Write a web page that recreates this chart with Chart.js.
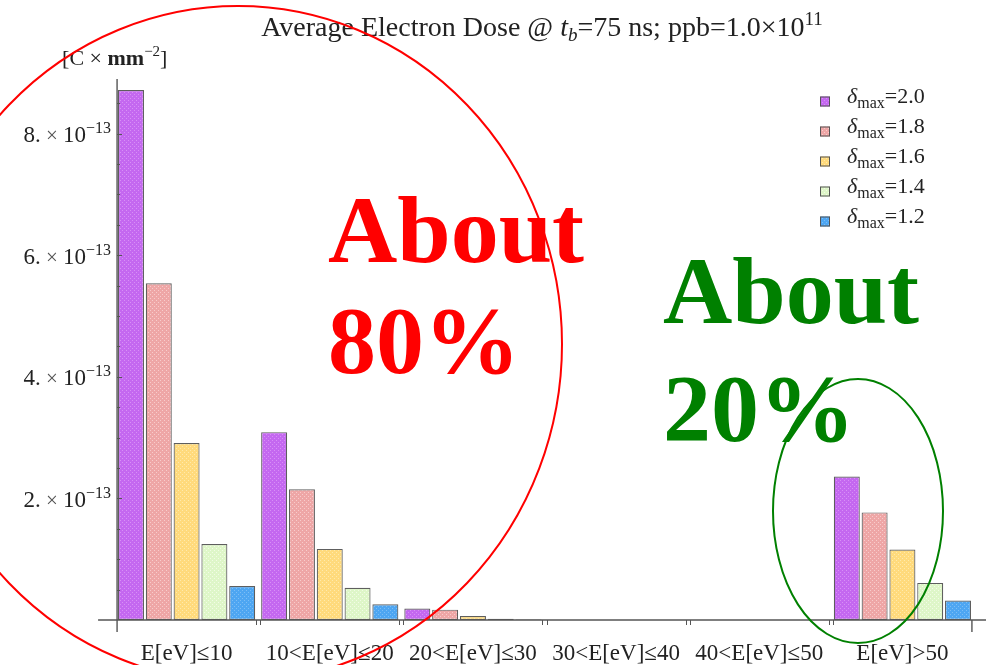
<!DOCTYPE html>
<html>
<head>
<meta charset="utf-8">
<title>Average Electron Dose</title>
<script src="https://cdn.jsdelivr.net/npm/chart.js@4/dist/chart.umd.min.js"></script>
<style>
  html, body { margin: 0; padding: 0; background: #ffffff; }
  #wrap { width: 986px; height: 665px; position: relative; }
</style>
</head>
<body>
<div id="wrap"><canvas id="dose" width="986" height="665"></canvas></div>
<script>
// Energy bins of the secondary electrons
const categories = ['E[eV]\u226410', '10<E[eV]\u226420', '20<E[eV]\u226430', '30<E[eV]\u226440', '40<E[eV]\u226450', 'E[eV]>50'];

// Average dose per bin [C x mm^-2] for each peak secondary emission yield
const deltaMax = ['2.0', '1.8', '1.6', '1.4', '1.2'];
const dose_d20 = [8.72e-13, 3.09e-13, 0.19e-13, 0, 0, 2.36e-13];
const dose_d18 = [5.54e-13, 2.15e-13, 0.17e-13, 0, 0, 1.77e-13];
const dose_d16 = [2.91e-13, 1.17e-13, 0.066e-13, 0, 0, 1.16e-13];
const dose_d14 = [1.25e-13, 0.53e-13, 0.02e-13, 0, 0, 0.61e-13];
const dose_d12 = [0.56e-13, 0.26e-13, 0.01e-13, 0, 0, 0.32e-13];

// Labelled y ticks (mantissa x 10^-13) and the axis range
const yTickValues = [2e-13, 4e-13, 6e-13, 8e-13];
const yTickMantissa = ['2.', '4.', '6.', '8.'];
const yMinorStep = 0.5e-13;
const yMax = 8.9e-13;

const serif = '"Liberation Serif", "Times New Roman", "DejaVu Serif", serif';
const ink = '#222222';
const CAT_PCT = 0.971;

// Hatched fills: base colour with a lighter dot lattice
function makePattern(base, dot) {
  const c = document.createElement('canvas');
  c.width = 4; c.height = 4;
  const g = c.getContext('2d');
  g.fillStyle = base; g.fillRect(0, 0, 4, 4);
  g.fillStyle = dot;
  g.fillRect(0, 0, 1, 1); g.fillRect(2, 2, 1, 1);
  return g.createPattern(c, 'repeat');
}
const fills = [
  makePattern('#c468f0', '#d890f6'),
  makePattern('#eea6a6', '#f8cccc'),
  makePattern('#ffda7c', '#ffeaac'),
  makePattern('#def6c8', '#f2fce6'),
  makePattern('#4ea6f2', '#7cbef6')
];
const seriesValues = [dose_d20, dose_d18, dose_d16, dose_d14, dose_d12];

// Draws a run of text pieces with individual fonts and baseline shifts
function drawRich(ctx, parts, x, y, align) {
  let total = 0;
  parts.forEach(p => { ctx.font = p.f; p.w = ctx.measureText(p.t).width; total += p.w; });
  let cx = align === 'center' ? x - total / 2 : align === 'right' ? x - total : x;
  ctx.textAlign = 'left';
  ctx.textBaseline = 'alphabetic';
  parts.forEach(p => {
    ctx.font = p.f;
    ctx.fillStyle = p.c || ink;
    ctx.fillText(p.t, cx, y + (p.dy || 0));
    cx += p.w;
  });
}

const decorations = {
  id: 'decorations',
  afterDatasetsDraw(chart) {
    const ctx = chart.ctx;
    const xs = chart.scales.x, ys = chart.scales.y;
    const area = chart.chartArea;
    const y0 = ys.getPixelForValue(0);
    const pitch = xs.getPixelForValue(1) - xs.getPixelForValue(0);
    const groupHalf = pitch * CAT_PCT / 2;
    const axisX = xs.getPixelForValue(0) - groupHalf;
    const axisEnd = xs.getPixelForValue(categories.length - 1) + groupHalf;
    ctx.save();

    // axes
    ctx.strokeStyle = '#555555';
    ctx.lineWidth = 1.4;
    ctx.beginPath();
    ctx.moveTo(axisX - 19, y0); ctx.lineTo(chart.width, y0);
    ctx.moveTo(axisX, area.top); ctx.lineTo(axisX, y0 + 12);
    ctx.moveTo(axisEnd, y0); ctx.lineTo(axisEnd, y0 + 12);
    ctx.stroke();

    // y ticks pointing inward
    ctx.lineWidth = 1;
    ctx.beginPath();
    for (let v = yMinorStep; v <= yMax; v += yMinorStep) {
      const py = Math.round(ys.getPixelForValue(v)) + 0.5;
      const major = yTickValues.some(t => Math.abs(t - v) < 1e-16);
      ctx.moveTo(axisX, py); ctx.lineTo(axisX + (major ? 5 : 3), py);
    }
    // x ticks at the ends of neighbouring groups
    for (let i = 1; i < categories.length; i++) {
      const endPrev = xs.getPixelForValue(i - 1) + groupHalf;
      const startNext = xs.getPixelForValue(i) - groupHalf;
      [endPrev, startNext].forEach(bx => { ctx.moveTo(Math.round(bx) + 0.5, y0); ctx.lineTo(Math.round(bx) + 0.5, y0 + 5); });
    }
    ctx.stroke();

    // y tick labels
    yTickValues.forEach((v, i) => {
      const py = ys.getPixelForValue(v);
      drawRich(ctx, [
        { t: yTickMantissa[i], f: `23px ${serif}` },
        { t: ' \u00d7 ', f: `21px ${serif}`, c: '#555' },
        { t: '10', f: `23px ${serif}` },
        { t: '\u221213', f: `16px ${serif}`, dy: -9 }
      ], axisX - 6, py + 8.5, 'right');
    });

    // x category labels
    categories.forEach((c, i) => {
      drawRich(ctx, [{ t: c, f: `23px ${serif}` }], xs.getPixelForValue(i), y0 + 40, 'center');
    });

    // axis unit
    drawRich(ctx, [
      { t: '[C \u00d7 ', f: `22px ${serif}` },
      { t: 'mm', f: `bold 22px ${serif}` },
      { t: '\u22122', f: `15px ${serif}`, dy: -9 },
      { t: ']', f: `22px ${serif}` }
    ], axisX - 55, area.top - 14, 'left');

    // title
    drawRich(ctx, [
      { t: 'Average Electron Dose @ ', f: `28px ${serif}` },
      { t: 't', f: `italic 28px ${serif}` },
      { t: 'b', f: `italic 19px ${serif}`, dy: 5 },
      { t: '=75 ns; ppb=1.0\u00d710', f: `28px ${serif}` },
      { t: '11', f: `19px ${serif}`, dy: -11 }
    ], 542, 36, 'center');

    // legend
    chart.data.datasets.forEach((ds, i) => {
      const cy = 101.5 + i * 30;
      ctx.fillStyle = ds.backgroundColor;
      ctx.fillRect(820, cy - 5, 10, 10);
      ctx.strokeStyle = '#555555';
      ctx.lineWidth = 1;
      ctx.strokeRect(820.5, cy - 4.5, 9, 9);
      drawRich(ctx, [
        { t: '\u03b4', f: `italic 22px ${serif}` },
        { t: 'max', f: `16px ${serif}`, dy: 5 },
        { t: '=' + deltaMax[i], f: `22px ${serif}` }
      ], 847, cy + 1.5, 'left');
    });

    // share annotations
    ctx.font = `bold 96px ${serif}`;
    ctx.textAlign = 'left';
    ctx.textBaseline = 'alphabetic';
    ctx.fillStyle = '#ff0000';
    ctx.fillText('About', 328, 262);
    ctx.fillText('80%', 328, 373);
    ctx.fillStyle = '#008000';
    ctx.fillText('About', 663, 323);
    ctx.fillText('20%', 663, 441);

    ctx.lineWidth = 2;
    ctx.strokeStyle = '#ff0000';
    ctx.beginPath();
    ctx.ellipse(238, 344, 324, 338, 0, 0, Math.PI * 2);
    ctx.stroke();
    ctx.strokeStyle = '#008000';
    ctx.beginPath();
    ctx.ellipse(858, 511, 85, 132, 0, 0, Math.PI * 2);
    ctx.stroke();

    ctx.restore();
  }
};

new Chart(document.getElementById('dose'), {
  type: 'bar',
  data: {
    labels: categories,
    datasets: seriesValues.map((vals, i) => ({
      label: '\u03b4max=' + deltaMax[i],
      data: vals,
      backgroundColor: fills[i],
      borderColor: '#5e5e5e',
      borderWidth: 1.2,
      borderSkipped: false,
      categoryPercentage: CAT_PCT,
      barPercentage: 0.935
    }))
  },
  options: {
    responsive: false,
    animation: false,
    devicePixelRatio: 1,
    layout: { padding: { left: 115, right: 12, top: 79, bottom: 45 } },
    plugins: { legend: { display: false }, tooltip: { enabled: false }, title: { display: false } },
    scales: {
      x: {
        type: 'category',
        offset: true,
        grid: { display: false, drawTicks: false },
        border: { display: false },
        ticks: { display: false }
      },
      y: {
        min: 0,
        max: yMax,
        grid: { display: false, drawTicks: false },
        border: { display: false },
        ticks: { display: false }
      }
    }
  },
  plugins: [decorations]
});
</script>
</body>
</html>
